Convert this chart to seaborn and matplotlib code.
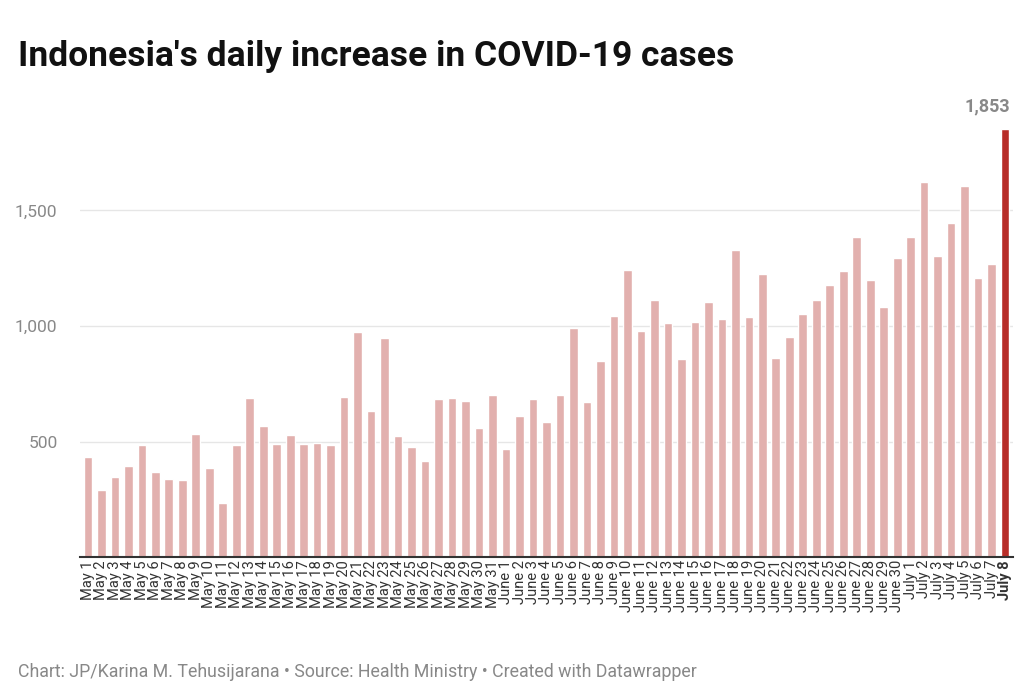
import pandas as pd
import matplotlib.pyplot as plt
import seaborn as sns

# Daily new cases, May 1 - July 8
may_days = [f"May {d}" for d in range(1, 32)]
june_days = [f"June {d}" for d in range(1, 31)]
july_days = [f"July {d}" for d in range(1, 9)]
dates = may_days + june_days + july_days

cases = [433, 292, 349, 395, 484, 367, 338, 336, 533, 387, 233, 484, 689, 568, 490, 529,
         489, 496, 486, 693, 973, 634, 949, 526, 479, 415, 686, 687, 678, 557, 700,
         467, 609, 684, 585, 703, 993, 672, 847, 1043, 1241, 979, 1111, 1014, 857, 1017,
         1106, 1031, 1331, 1041, 1226, 862, 954, 1051, 1113, 1178, 1240, 1385, 1198, 1082, 1293,
         1385, 1624, 1301, 1447, 1607, 1209, 1268, 1853]

df = pd.DataFrame({"date": dates, "cases": cases})
palette = ["#e2b0ae"] * (len(dates) - 1) + ["#b72d28"]

sns.set_style("white")
plt.rcParams["font.family"] = ["Roboto", "DejaVu Sans"]

fig = plt.figure(figsize=(10.36, 6.94), dpi=100)
ax = fig.add_axes([0.077, 0.197, 0.901, 0.633])

sns.barplot(data=df, x="date", y="cases", hue="date", palette=palette, legend=False,
            width=0.64, ax=ax, saturation=1)

ax.set_ylim(0, 1900)
ax.set_xlim(-0.6, len(dates) - 0.4)
ax.set_yticks([500, 1000, 1500])
ax.set_yticklabels(["500", "1,000", "1,500"], color="#888888", fontsize=12.5)
ax.tick_params(axis="y", length=0, pad=16)
ax.tick_params(axis="x", length=0, pad=2)
ax.grid(axis="y", color="#e6e6e6", linewidth=1)
ax.set_axisbelow(True)
for s in ["top", "right", "left"]:
    ax.spines[s].set_visible(False)
ax.spines["bottom"].set_color("#333333")
ax.spines["bottom"].set_linewidth(1.5)
ax.set_xlabel("")
ax.set_ylabel("")

ax.set_xticks(range(len(dates)))
ax.set_xticklabels(dates, rotation=90, fontsize=10.5, color="#333333")
ax.get_xticklabels()[-1].set_fontweight("bold")

ax.text(len(dates) - 0.6, cases[-1] + 60, f"{cases[-1]:,}", ha="right", va="bottom",
        fontsize=13, fontweight="bold", color="#888888")

fig.text(0.017, 0.905, "Indonesia's daily increase in COVID-19 cases",
         fontsize=25.5, fontweight="bold", color="#111111")
fig.text(0.017, 0.025, "Chart: JP/Karina M. Tehusijarana • Source: Health Ministry • Created with Datawrapper",
         fontsize=12.8, color="#888888")

fig.savefig("out.png", dpi=100)
